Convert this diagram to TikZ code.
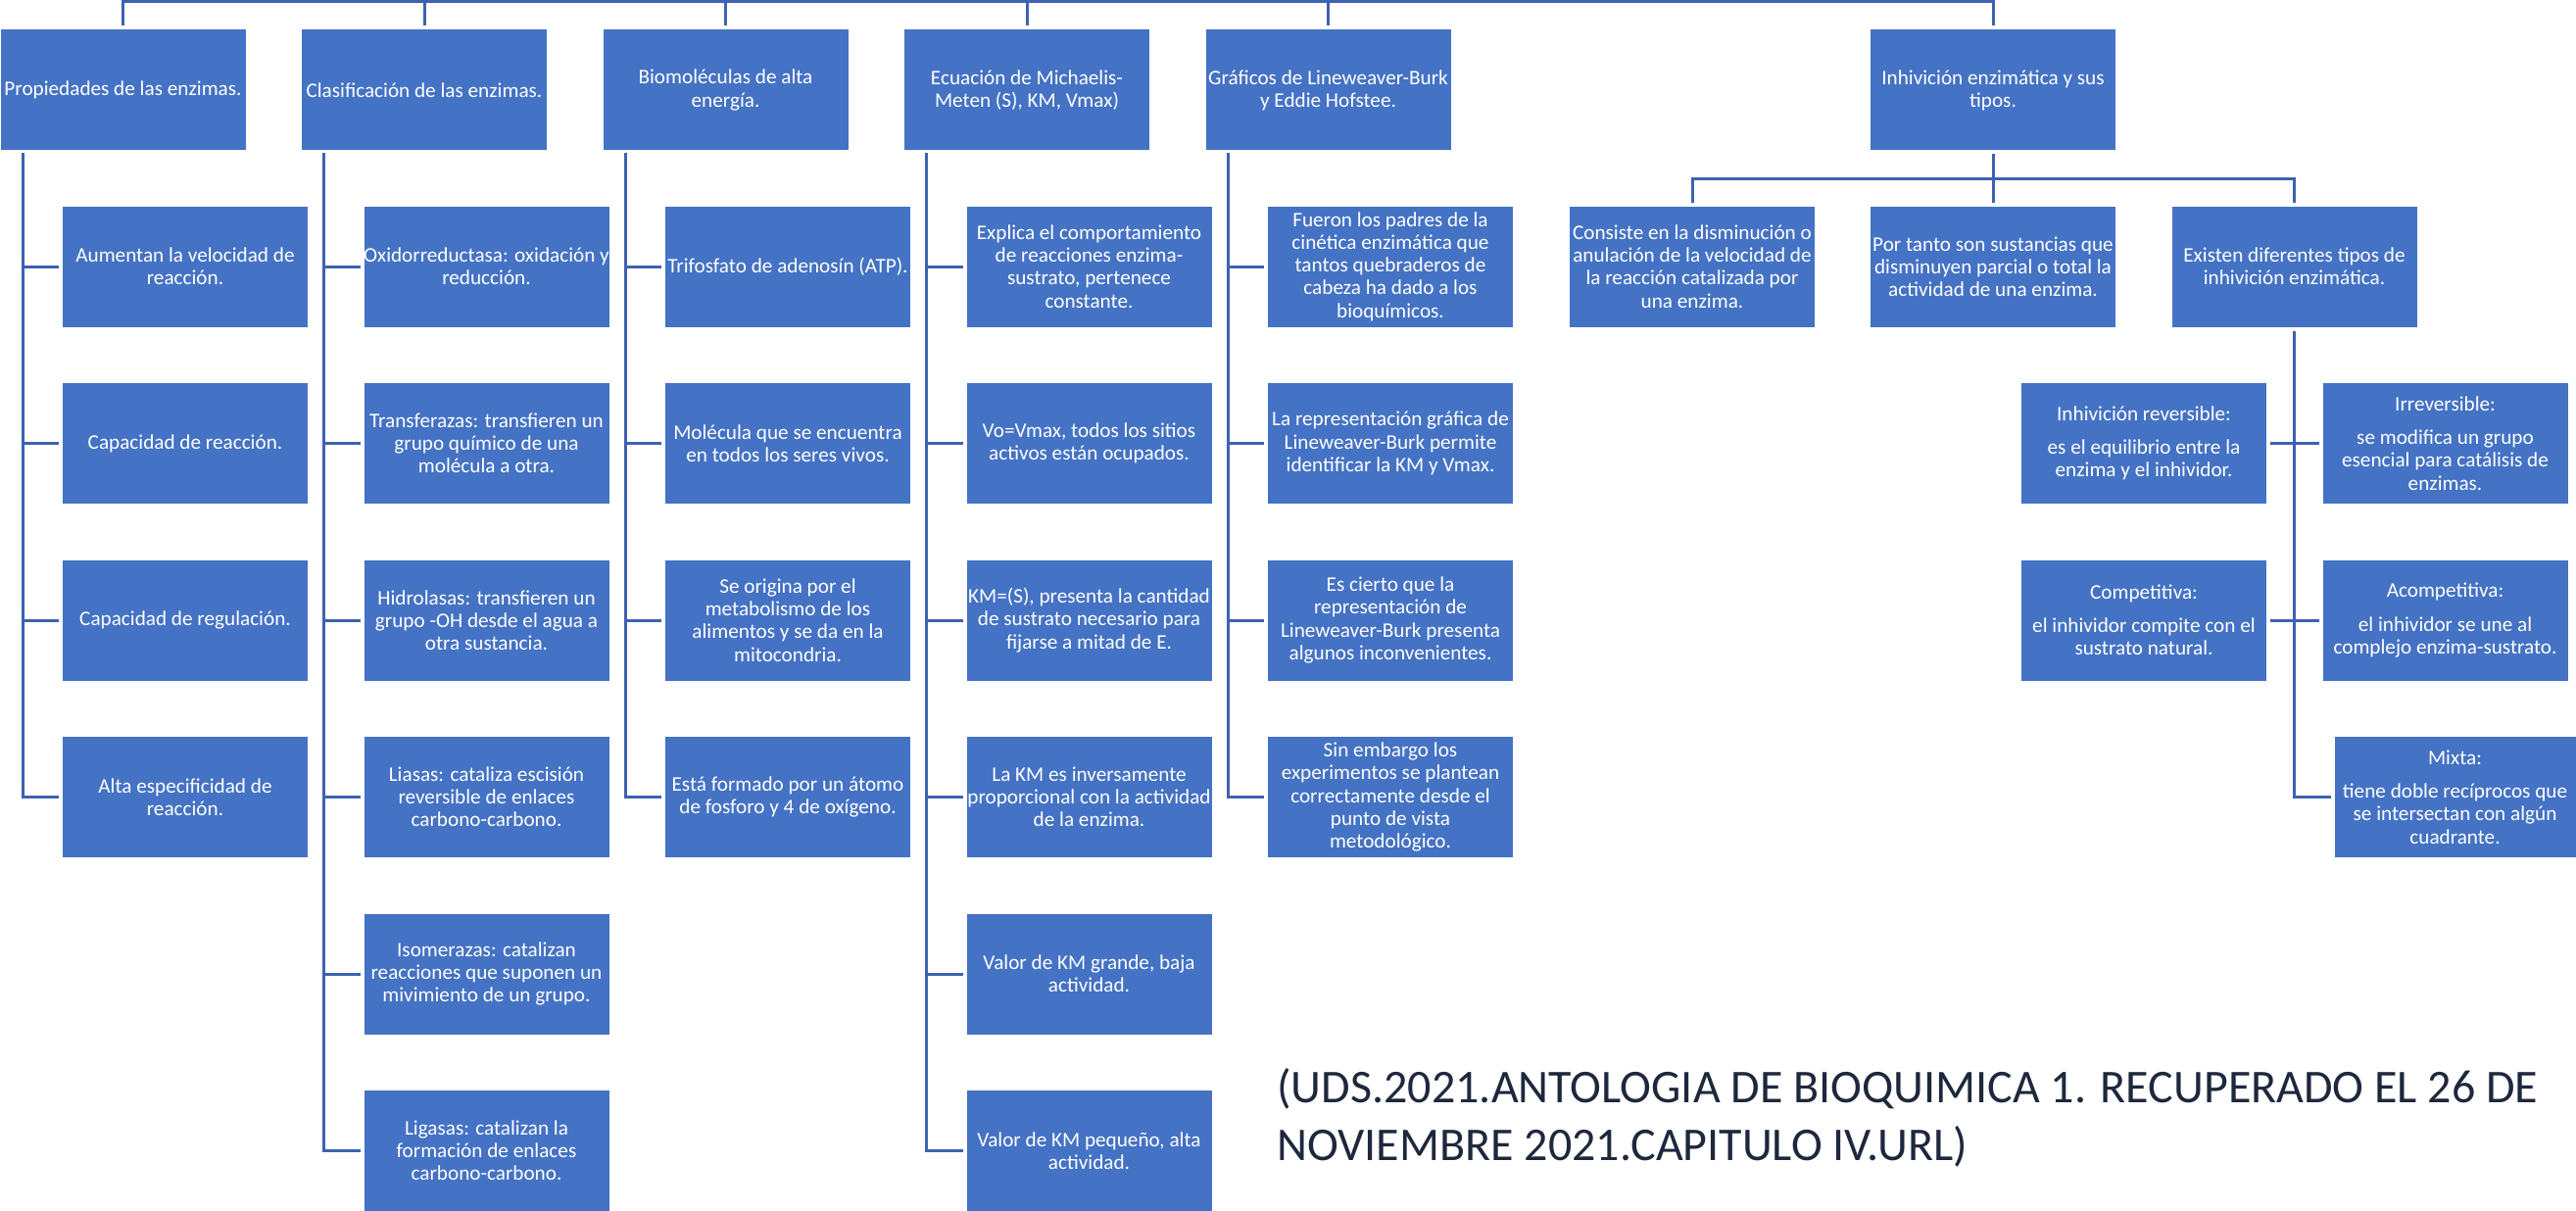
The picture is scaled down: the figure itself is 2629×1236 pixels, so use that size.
\documentclass[tikz,border=0pt]{standalone}
\usepackage{fontspec}
\setmainfont{Carlito}
\definecolor{cajaazul}{RGB}{68,114,196}
\definecolor{lineaazul}{RGB}{62,98,178}
\definecolor{citaazul}{RGB}{30,40,60}
\begin{document}
\begin{tikzpicture}[x=0.5pt,y=-0.5pt,line cap=rect]
 \def \dy{180.5} \def \fila{272}
 \tikzset{caja/.style={rectangle,fill=cajaazul,draw=white,line width=0.5pt,text=white,align=center,inner sep=0pt,minimum width=125.5pt,minimum height=62pt,font=\fontsize{10.6}{11.6}\selectfont},
  linea/.style={draw=lineaazul,line width=1.5pt},
  ala/.style={shorten >=2.25pt}}
 \useasboundingbox (0,0) rectangle (2629,1236);
 \coordinate (arriba) at (0,2);
 \coordinate (medio) at (0,182);
 \node[caja] (h1) at (125.5,92) {Propiedades de las enzimas.};
 \node[caja] (h2) at (433,92) {Clasificación de las enzimas.};
 \node[caja] (h3) at (740.5,92) {Biomoléculas de alta\\energía.};
 \node[caja] (h4) at (1048,92) {Ecuación de Michaelis-\\Meten (S), KM, Vmax)};
 \node[caja] (h5) at (1355.5,92) {Gráficos de Lineweaver-Burk\\y Eddie Hofstee.};
 \node[caja] (h6) at (2034,92) {Inhivición enzimática y sus\\tipos.};
 \foreach \t [count=\i] in {{Aumentan la velocidad de\\reacción.},{Capacidad de reacción.},{Capacidad de regulación.},{Alta especificidad de\\reacción.}}
  \node[caja] (pro\i) at (189,{\fila+\dy*(\i-1)}) {\t};
 \foreach \t [count=\i] in {{Oxidorreductasa: oxidación y\\reducción.},{Transferazas: transfieren un\\grupo químico de una\\molécula a otra.},{Hidrolasas: transfieren un\\grupo -OH desde el agua a\\otra sustancia.},{Liasas: cataliza escisión\\reversible de enlaces\\carbono-carbono.},{Isomerazas: catalizan\\reacciones que suponen un\\mivimiento de un grupo.},{Ligasas: catalizan la\\formación de enlaces\\carbono-carbono.}}
  \node[caja] (cla\i) at (496.5,{\fila+\dy*(\i-1)}) {\t};
 \foreach \t [count=\i] in {{Trifosfato de adenosín (ATP).},{Molécula que se encuentra\\en todos los seres vivos.},{Se origina por el\\metabolismo de los\\alimentos y se da en la\\mitocondria.},{Está formado por un átomo\\de fosforo y 4 de oxígeno.}}
  \node[caja] (bio\i) at (804,{\fila+\dy*(\i-1)}) {\t};
 \foreach \t [count=\i] in {{Explica el comportamiento\\de reacciones enzima-\\sustrato, pertenece\\constante.},{Vo=Vmax, todos los sitios\\activos están ocupados.},{KM=(S), presenta la cantidad\\de sustrato necesario para\\fijarse a mitad de E.},{La KM es inversamente\\proporcional con la actividad\\de la enzima.},{Valor de KM grande, baja\\actividad.},{Valor de KM pequeño, alta\\actividad.}}
  \node[caja] (ecu\i) at (1111.5,{\fila+\dy*(\i-1)}) {\t};
 \foreach \t [count=\i] in {{Fueron los padres de la\\cinética enzimática que\\tantos quebraderos de\\cabeza ha dado a los\\bioquímicos.},{La representación gráfica de\\Lineweaver-Burk permite\\identificar la KM y Vmax.},{Es cierto que la\\representación de\\Lineweaver-Burk presenta\\algunos inconvenientes.},{Sin embargo los\\experimentos se plantean\\correctamente desde el\\punto de vista\\metodológico.}}
  \node[caja] (gra\i) at (1419,{\fila+\dy*(\i-1)}) {\t};
 \node[caja] (inh1) at (1727,\fila) {Consiste en la disminución o\\anulación de la velocidad de\\la reacción catalizada por\\una enzima.};
 \node[caja] (inh2) at (2034,\fila) {Por tanto son sustancias que\\disminuyen parcial o total la\\actividad de una enzima.};
 \node[caja] (inh3) at (2341.5,\fila) {Existen diferentes tipos de\\inhivición enzimática.};
 \node[caja] (rev) at (2188,452.5) {Inhivición reversible:\\[5.5pt]es el equilibrio entre la\\enzima y el inhividor.};
 \node[caja] (irr) at (2495.5,452.5) {Irreversible:\\[5.5pt]se modifica un grupo\\esencial para catálisis de\\enzimas.};
 \node[caja] (comp) at (2188,633) {Competitiva:\\[5.5pt]el inhividor compite con el\\sustrato natural.};
 \node[caja] (acomp) at (2495.5,633) {Acompetitiva:\\[5.5pt]el inhividor se une al\\complejo enzima-sustrato.};
 \node[caja,minimum width=123.5pt] (mix) at (2505.5,813.5) {Mixta:\\[5.5pt]tiene doble recíprocos que\\se intersectan con algún\\cuadrante.};
 \node[anchor=north west,align=left,inner sep=0pt,text=citaazul,font=\fontsize{24}{29.5}\selectfont] (cita) at (1303,1090) {(UDS.2021.ANTOLOGIA DE BIOQUIMICA 1. RECUPERADO EL 26 DE\\NOVIEMBRE 2021.CAPITULO IV.URL)};
 \draw[linea] (h1.north |- arriba) -- (h6.north |- arriba);
 \foreach \k in {1,...,6}
  \draw[linea,ala] (h\k.north |- arriba) -- (h\k.north);
 \coordinate (s1) at (23,158); \coordinate (s2) at (330.5,158); \coordinate (s3) at (638,158);
 \coordinate (s4) at (945.5,158); \coordinate (s5) at (1253,158);
 \draw[linea,ala] (s1) |- (pro4.west);
 \foreach \i in {1,2,3} \draw[linea,ala] (s1 |- pro\i.west) -- (pro\i.west);
 \draw[linea,ala] (s2) |- (cla6.west);
 \foreach \i in {1,...,5} \draw[linea,ala] (s2 |- cla\i.west) -- (cla\i.west);
 \draw[linea,ala] (s3) |- (bio4.west);
 \foreach \i in {1,2,3} \draw[linea,ala] (s3 |- bio\i.west) -- (bio\i.west);
 \draw[linea,ala] (s4) |- (ecu6.west);
 \foreach \i in {1,...,5} \draw[linea,ala] (s4 |- ecu\i.west) -- (ecu\i.west);
 \draw[linea,ala] (s5) |- (gra4.west);
 \foreach \i in {1,2,3} \draw[linea,ala] (s5 |- gra\i.west) -- (gra\i.west);
 \draw[linea,ala,shorten <=2.25pt] (h6.south) -- (inh2.north);
 \draw[linea] (inh1.north |- medio) -- (inh3.north |- medio);
 \draw[linea,ala] (inh1.north |- medio) -- (inh1.north);
 \draw[linea,ala] (inh3.north |- medio) -- (inh3.north);
 \draw[linea,ala,shorten <=2.25pt] (inh3.south) |- (mix.west);
 \draw[linea,ala,shorten <=2.25pt] (rev.east) -- (irr.west);
 \draw[linea,ala,shorten <=2.25pt] (comp.east) -- (acomp.west);
\end{tikzpicture}
\end{document}
